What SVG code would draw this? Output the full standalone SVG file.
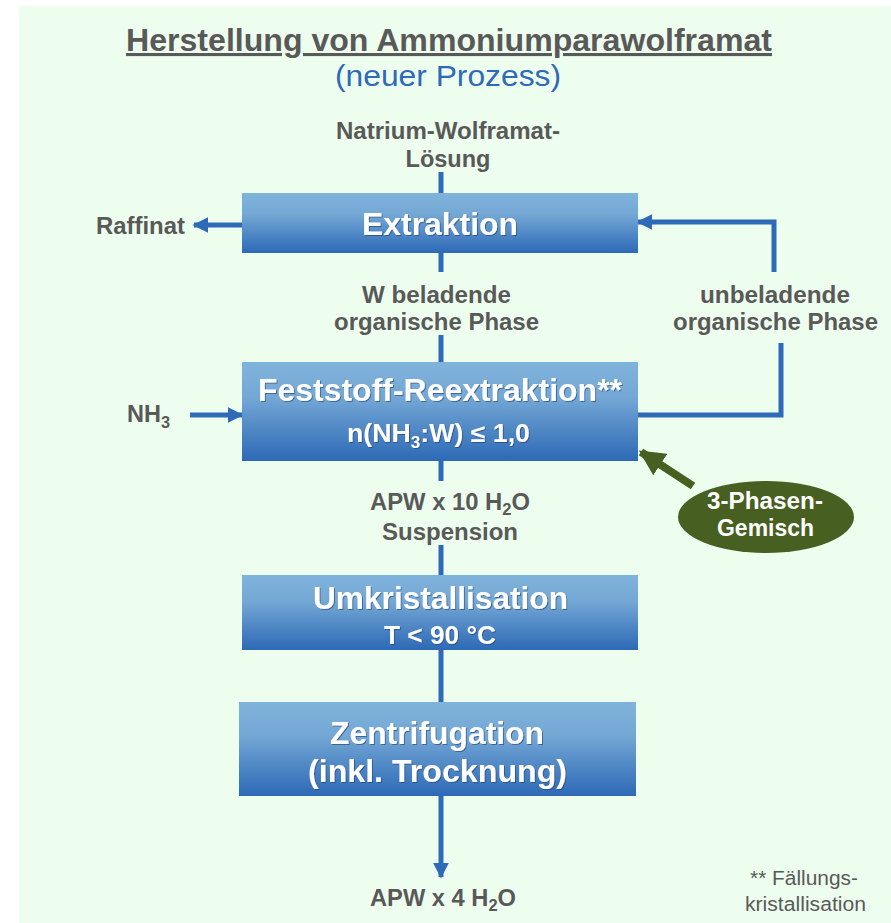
<svg xmlns="http://www.w3.org/2000/svg" width="891" height="923" viewBox="0 0 891 923">
  <style>
    .lbl { font-family: "Liberation Sans", Arial, sans-serif; font-weight: bold; font-size: 23px; fill: #595959; text-anchor: middle; }
    .lbl-start { font-family: "Liberation Sans", Arial, sans-serif; font-weight: bold; font-size: 23px; fill: #595959; text-anchor: start; }
    .box-title { font-family: "Liberation Sans", Arial, sans-serif; font-weight: bold; font-size: 32px; fill: #ffffff; text-anchor: middle; filter: url(#shadow); }
    .box-sub { font-family: "Liberation Sans", Arial, sans-serif; font-weight: bold; font-size: 25px; fill: #ffffff; text-anchor: middle; filter: url(#shadow); }
    .oval-txt { font-family: "Liberation Sans", Arial, sans-serif; font-weight: bold; font-size: 23px; fill: #ffffff; text-anchor: middle; }
    .note { font-family: "Liberation Sans", Arial, sans-serif; font-size: 20px; fill: #595959; text-anchor: middle; }
    .flow { stroke: #2E6AB8; stroke-width: 5; fill: none; }
    .box { fill: url(#boxGrad); }
  </style>
  <defs>
    <linearGradient id="boxGrad" x1="0" y1="0" x2="0" y2="1">
      <stop offset="0" stop-color="#80B3DB"/>
      <stop offset="0.35" stop-color="#74A8D5"/>
      <stop offset="1" stop-color="#2D69B6"/>
    </linearGradient>
    <filter id="shadow" x="-10%" y="-20%" width="120%" height="140%">
      <feDropShadow dx="1" dy="1" stdDeviation="0.6" flood-color="#1F3E6E" flood-opacity="0.6"/>
    </filter>
    <marker id="arrowBlue" viewBox="0 0 10 10" refX="9" refY="5" markerWidth="3.2" markerHeight="3.2" orient="auto" markerUnits="strokeWidth">
      <path d="M0,0 L10,5 L0,10 z" fill="#2E6AB8"/>
    </marker>
    <marker id="arrowGreen" viewBox="0 0 10 10" refX="9" refY="5" markerWidth="3.2" markerHeight="3.2" orient="auto" markerUnits="strokeWidth">
      <path d="M0,0 L10,5 L0,10 z" fill="#475F20"/>
    </marker>
  </defs>

  <!-- background panel -->
  <rect x="0" y="0" width="891" height="923" fill="#ffffff"/>
  <rect x="19" y="6" width="872" height="917" fill="#EEFEEE"/>

  <!-- heading -->
  <g id="title">
    <text x="449" y="51" font-family="'Liberation Sans', Arial, sans-serif" font-weight="bold" font-size="31" fill="#595959" text-anchor="middle" text-decoration="underline" textLength="646" lengthAdjust="spacingAndGlyphs">Herstellung von Ammoniumparawolframat</text>
    <text x="448" y="86" font-family="'Liberation Sans', Arial, sans-serif" font-size="29" fill="#2E6AB8" text-anchor="middle" textLength="226" lengthAdjust="spacingAndGlyphs">(neuer Prozess)</text>
  </g>

  <!-- connectors -->
  <g id="connectors">
    <line class="flow" x1="441" y1="172" x2="441" y2="194"/>
    <line class="flow" x1="441" y1="253" x2="441" y2="272"/>
    <line class="flow" x1="441" y1="335" x2="441" y2="362"/>
    <line class="flow" x1="441" y1="461" x2="441" y2="481"/>
    <line class="flow" x1="441" y1="545" x2="441" y2="575"/>
    <line class="flow" x1="441" y1="650" x2="441" y2="702"/>
    <line class="flow" x1="441" y1="796" x2="441" y2="877" marker-end="url(#arrowBlue)"/>
    <!-- Raffinat outlet -->
    <line class="flow" x1="242" y1="225" x2="194" y2="225" marker-end="url(#arrowBlue)"/>
    <!-- NH3 inlet -->
    <line class="flow" x1="190" y1="415" x2="242" y2="415" marker-end="url(#arrowBlue)"/>
    <!-- recycled organic phase -->
    <polyline class="flow" points="638,415 781,415 781,343"/>
    <polyline class="flow" points="774,272 774,222 638,222" marker-end="url(#arrowBlue)"/>
    <!-- three-phase mixture -->
    <line x1="693" y1="486" x2="641" y2="452" stroke="#475F20" stroke-width="8" marker-end="url(#arrowGreen)"/>
  </g>

  <!-- flow labels -->
  <g id="label-feed">
    <text class="lbl" x="448" y="139" textLength="224" lengthAdjust="spacingAndGlyphs">Natrium-Wolframat-</text>
    <text class="lbl" x="448" y="167" textLength="85" lengthAdjust="spacingAndGlyphs">Lösung</text>
  </g>
  <g id="label-raffinat">
    <text class="lbl" x="140.5" y="234" textLength="89" lengthAdjust="spacingAndGlyphs">Raffinat</text>
  </g>
  <g id="label-loaded">
    <text class="lbl" x="436.5" y="303" textLength="149" lengthAdjust="spacingAndGlyphs">W beladende</text>
    <text class="lbl" x="436.5" y="330" textLength="205" lengthAdjust="spacingAndGlyphs">organische Phase</text>
  </g>
  <g id="label-unloaded">
    <text class="lbl" x="775" y="303" textLength="150" lengthAdjust="spacingAndGlyphs">unbeladende</text>
    <text class="lbl" x="775.5" y="330" textLength="205" lengthAdjust="spacingAndGlyphs">organische Phase</text>
  </g>
  <g id="label-nh3">
    <text class="lbl-start" x="127" y="422" textLength="43" lengthAdjust="spacingAndGlyphs">NH<tspan font-size="16" dy="6">3</tspan></text>
  </g>
  <g id="label-suspension">
    <text class="lbl" x="450" y="510" textLength="160" lengthAdjust="spacingAndGlyphs">APW x 10 H<tspan font-size="16" dy="5">2</tspan><tspan dy="-5">O</tspan></text>
    <text class="lbl" x="450" y="540" textLength="136" lengthAdjust="spacingAndGlyphs">Suspension</text>
  </g>
  <g id="label-product">
    <text class="lbl" x="443" y="906" textLength="146" lengthAdjust="spacingAndGlyphs">APW x 4 H<tspan font-size="16" dy="5">2</tspan><tspan dy="-5">O</tspan></text>
  </g>
  <g id="footnote">
    <text class="note" x="804" y="885" textLength="108" lengthAdjust="spacingAndGlyphs">** Fällungs-</text>
    <text class="note" x="805.5" y="911" textLength="121" lengthAdjust="spacingAndGlyphs">kristallisation</text>
  </g>

  <!-- process steps -->
  <g id="extraktion">
    <rect class="box" x="242" y="193" width="396" height="60"/>
    <text class="box-title" x="440" y="235" textLength="156" lengthAdjust="spacingAndGlyphs">Extraktion</text>
  </g>
  <g id="reextraktion">
    <rect class="box" x="242" y="362" width="396" height="99"/>
    <text class="box-title" x="440" y="401" textLength="364" lengthAdjust="spacingAndGlyphs">Feststoff-Reextraktion**</text>
    <text class="box-sub" x="438.5" y="442" textLength="183" lengthAdjust="spacingAndGlyphs">n(NH<tspan font-size="16" dy="6">3</tspan><tspan dy="-6">:W) ≤ 1,0</tspan></text>
  </g>
  <g id="umkristallisation">
    <rect class="box" x="242" y="575" width="396" height="75"/>
    <text class="box-title" x="440.5" y="609" textLength="255" lengthAdjust="spacingAndGlyphs">Umkristallisation</text>
    <text class="box-sub" x="440" y="644" textLength="112" lengthAdjust="spacingAndGlyphs">T &lt; 90 °C</text>
  </g>
  <g id="zentrifugation">
    <rect class="box" x="239" y="702" width="397" height="94"/>
    <text class="box-title" x="437" y="744" textLength="214" lengthAdjust="spacingAndGlyphs">Zentrifugation</text>
    <text class="box-title" x="437.5" y="782" textLength="259" lengthAdjust="spacingAndGlyphs">(inkl. Trocknung)</text>
  </g>
  <g id="phasengemisch">
    <ellipse cx="766" cy="517" rx="88" ry="36" fill="#475F20"/>
    <text class="oval-txt" x="765" y="509" textLength="116" lengthAdjust="spacingAndGlyphs">3-Phasen-</text>
    <text class="oval-txt" x="765.5" y="536" textLength="97" lengthAdjust="spacingAndGlyphs">Gemisch</text>
  </g>
</svg>
